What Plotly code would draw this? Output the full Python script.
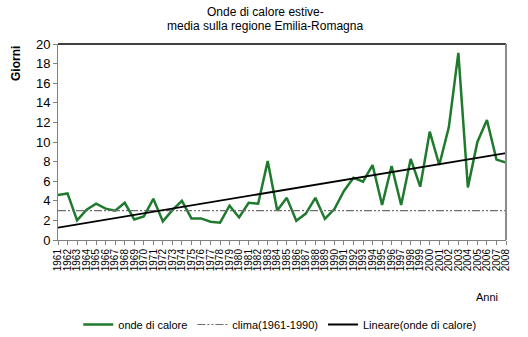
import numpy as np
import plotly.graph_objects as go

years = list(range(1961, 2009))
onde = [4.6, 4.75, 2.0, 3.1, 3.7, 3.2, 3.0, 3.8, 2.1, 2.4,
        4.2, 1.9, 3.05, 4.0, 2.2, 2.2, 1.87, 1.77, 3.5, 2.3,
        3.8, 3.7, 8.05, 3.0, 4.3, 1.97, 2.7, 4.3, 2.15, 3.15,
        5.0, 6.35, 5.95, 7.65, 3.57, 7.55, 3.57, 8.27, 5.44, 11.05,
        7.65, 11.5, 19.1, 5.37, 10.0, 12.25, 8.2, 7.9]
clima_value = 3.0
clima = [clima_value] * len(years)
ytick_vals = list(range(0, 21, 2))
tick_labels = [str(y) for y in years]

# Excel-style linear trendline fitted to the data
slope, intercept = np.polyfit(np.arange(len(years)), onde, 1)
trend = [intercept + slope * i for i in range(len(years))]

FONT = "Liberation Sans, Arial, sans-serif"

fig = go.Figure()
fig.add_trace(go.Scatter(x=years, y=onde, mode="lines", name="onde di calore",
                         line=dict(color="#1f7a2e", width=2.5)))
fig.add_trace(go.Scatter(x=years, y=clima, mode="lines", name="clima(1961-1990)",
                         line=dict(color="#6e6e6e", width=1.2, dash="8px,2px,2px,2px,2px,2px")))
fig.add_trace(go.Scatter(x=years, y=trend, mode="lines", name="Lineare(onde di calore)",
                         line=dict(color="#000000", width=1.8)))

fig.update_layout(
    width=528, height=337,
    margin=dict(l=58, r=22, t=44, b=97, autoexpand=False),
    paper_bgcolor="white", plot_bgcolor="white",
    font=dict(family=FONT, size=12, color="#000"),
    showlegend=True,
    legend=dict(orientation="h", x=0.495, xanchor="center",
                yref="container", y=(337 - 310) / 337, yanchor="top",
                font=dict(size=11, family=FONT), traceorder="normal",
                tracegroupgap=0),
    xaxis=dict(range=[1961, 2008], tickmode="array", tickvals=years, ticktext=tick_labels,
               tickangle=-90, tickfont=dict(size=10, family=FONT),
               showgrid=False, zeroline=False, showline=True, linecolor="#808080",
               linewidth=1, ticks="outside", ticklen=4, tickcolor="#808080",
               automargin=False),
    yaxis=dict(range=[0, 20], tickmode="array", tickvals=ytick_vals,
               tickfont=dict(size=13, family=FONT),
               showgrid=False, zeroline=False, showline=True, linecolor="#808080",
               linewidth=1, ticks="outside", ticklen=4, tickcolor="#808080",
               automargin=False),
    shapes=[
        dict(type="line", xref="paper", yref="paper", x0=0, x1=1, y0=1, y1=1,
             line=dict(color="#000", width=1.5)),
        dict(type="line", xref="paper", yref="paper", x0=1, x1=1, y0=0, y1=1,
             line=dict(color="#8c8c8c", width=2)),
    ],
    annotations=[
        dict(text="Onde di calore estive-", xref="paper", yref="paper",
             x=(265 - 58) / 448, y=1 + (44 - 12) / 196, xanchor="center", yanchor="middle",
             showarrow=False, font=dict(size=12, family=FONT)),
        dict(text="media sulla regione Emilia-Romagna", xref="paper", yref="paper",
             x=(265 - 58) / 448, y=1 + (44 - 26) / 196, xanchor="center", yanchor="middle",
             showarrow=False, font=dict(size=12, family=FONT)),
        dict(text="<b>Giorni</b>", xref="paper", yref="paper", x=-0.095, y=0.9,
             xanchor="center", yanchor="middle", textangle=-90, showarrow=False,
             font=dict(size=12, family=FONT)),
        dict(text="Anni", xref="paper", yref="paper", x=(487 - 58) / 448, y=(240 - 297) / 196,
             xanchor="center", yanchor="middle", showarrow=False,
             font=dict(size=11, family=FONT)),
    ],
)

fig.write_html("out.html")
